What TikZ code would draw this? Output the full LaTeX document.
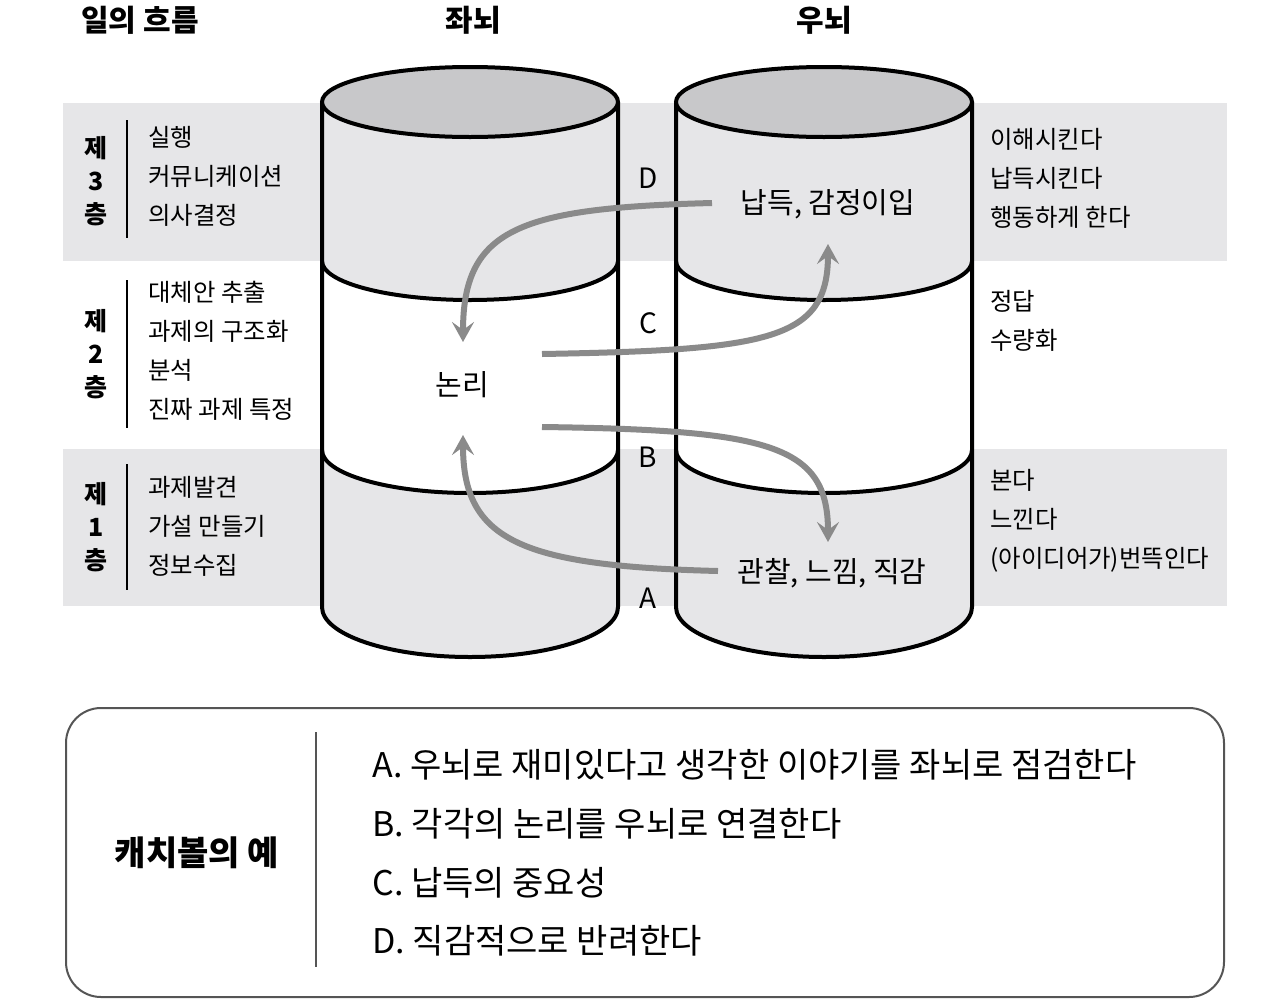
\documentclass[tikz,border=0pt]{standalone}
\usepackage{fontspec}
\setmainfont{Noto Sans CJK KR}
\usetikzlibrary{positioning,arrows.meta,calc}
\definecolor{bandgray}{HTML}{E6E6E8}
\definecolor{capgray}{HTML}{C8C8CA}
\definecolor{flowgray}{HTML}{8A8A8A}
\definecolor{boxgray}{HTML}{555555}
\tikzset{
  >={Stealth[length=10pt,width=11pt,inset=4pt]},
  band/.style={fill=bandgray, draw=none},
  rim/.style={draw=black, line width=2pt},
  head/.style={font=\bfseries\fontsize{15}{17}\selectfont},
  tier/.style={font=\bfseries\fontsize{12.5}{16.5}\selectfont, align=center, inner sep=0pt},
  item/.style={anchor=west, align=left, inner sep=0pt, font=\fontsize{12.2}{19.5}\selectfont},
  inlab/.style={font=\fontsize{14.5}{17}\selectfont},
  pathlab/.style={font=\fontsize{14}{16}\selectfont},
  flow/.style={->, draw=flowgray, line width=3pt},
  exitem/.style={anchor=west, align=left, inner sep=0pt, font=\fontsize{17}{29.3}\selectfont},
  sep/.style={draw=black, line width=1pt}
}

\begin{document}
\begin{tikzpicture}[x=0.5pt, y=-0.5pt]
\useasboundingbox (0,0) rectangle (1280,1007);
% layer bands
\fill[band] (63,103) rectangle (1227,261);
\fill[band] (63,449) rectangle (1227,606);
% the two brains
\foreach \cx in {470,824}{
  \fill[bandgray] ({\cx-148},102) -- ({\cx-148},261)
     arc[start angle=180, end angle=360, x radius=74pt, y radius=19.5pt] -- ({\cx+148},102) -- cycle;
  \fill[white] ({\cx-148},261)
     arc[start angle=180, end angle=360, x radius=74pt, y radius=19.5pt] -- ({\cx+148},450)
     arc[start angle=0, end angle=-180, x radius=74pt, y radius=21.5pt] -- cycle;
  \fill[bandgray] ({\cx-148},450)
     arc[start angle=180, end angle=360, x radius=74pt, y radius=21.5pt] -- ({\cx+148},607)
     arc[start angle=0, end angle=-180, x radius=74pt, y radius=25pt] -- cycle;
  \draw[rim] ({\cx-148},102) -- ({\cx-148},607)
     arc[start angle=180, end angle=360, x radius=74pt, y radius=25pt] -- ({\cx+148},102);
  \draw[rim] ({\cx-148},261) arc[start angle=180, end angle=360, x radius=74pt, y radius=19.5pt];
  \draw[rim] ({\cx-148},450) arc[start angle=180, end angle=360, x radius=74pt, y radius=21.5pt];
  \draw[rim, fill=capgray] (\cx,102) ellipse[x radius=74pt, y radius=17.5pt];
}
% headings
\node[head] (flowhead) at (140,20) {일의 흐름};
\node[head] (lhead) at (473,20) {좌뇌};
\node[head] (rhead) at (824,20) {우뇌};
% layers on the left
\node[tier] (t3) at (96,181) {제\\3\\층};
\node[tier] (t2) at (96,354) {제\\2\\층};
\node[tier] (t1) at (96,527) {제\\1\\층};
\draw[sep] (127,120) -- (127,238);
\draw[sep] (127,280) -- (127,428);
\draw[sep] (127,464) -- (127,590);
\node[item] (l3) at (148,176) {실행\\커뮤니케이션\\의사결정};
\node[item] (l2) at (148,350.5) {대체안 추출\\과제의 구조화\\분석\\진짜 과제 특정};
\node[item] (l1) at (148,526) {과제발견\\가설 만들기\\정보수집};
% right side
\node[item] (r3) at (990,178) {이해시킨다\\납득시킨다\\행동하게 한다};
\node[item] (r2) at (990,320.5) {정답\\수량화};
\node[item] (r1) at (990,521) {본다\\느낀다\\(아이디어가)번뜩인다};
% inside the brains
\node[inlab] (nap) at (828,204) {납득, 감정이입};
\node[inlab] (logic) at (462,385) {논리};
\node[inlab] (obs) at (832,573) {관찰, 느낌, 직감};
\node[pathlab] (pd) at (648,178) {D};
\node[pathlab] (pc) at (648,323) {C};
\node[pathlab] (pb) at (648,457) {B};
\node[pathlab] (pa) at (648,598) {A};
\draw[flow] ($(nap)+(-116,-1)$) .. controls (520,208) and (463,228) .. ($(logic)+(1,-43)$);
\draw[flow] ($(logic)+(80,-31)$) .. controls (770,350) and (828,340) .. ($(nap)+(0,40)$);
\draw[flow] ($(logic)+(80,42)$) .. controls (770,430) and (828,445) .. ($(obs)+(-4,-31)$);
\draw[flow] ($(obs)+(-114,-2)$) .. controls (520,566) and (463,540) .. ($(logic)+(1,50)$);
% example box
\node[draw=boxgray, line width=1pt, rounded corners=17.5pt, minimum width=579pt, minimum height=144.5pt] (exbox) at (645,852.5) {};
\draw[draw=boxgray, line width=1pt] (316,732) -- (316,967);
\node[font=\bfseries\fontsize{17}{19}\selectfont] (extitle) at (197,853) {캐치볼의 예};
\node[exitem] (exlist) at (372,853) {A. 우뇌로 재미있다고 생각한 이야기를 좌뇌로 점검한다\\B. 각각의 논리를 우뇌로 연결한다\\C. 납득의 중요성\\D. 직감적으로 반려한다};
\end{tikzpicture}
\end{document}
